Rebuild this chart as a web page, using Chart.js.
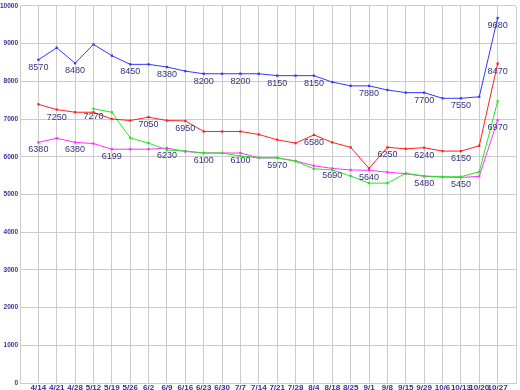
<!DOCTYPE html>
<html>
<head>
<meta charset="utf-8">
<script src="https://cdn.jsdelivr.net/npm/chart.js@4"></script>
<style>
html,body{margin:0;padding:0;background:#fff;}
canvas{display:block;}
</style>
</head>
<body>
<canvas id="c" width="520" height="390"></canvas>
<script>
const categories = ['4/14','4/21','4/28','5/12','5/19','5/26','6/2','6/9','6/16','6/23','6/30','7/7','7/14','7/21','7/28','8/4','8/18','8/25','9/1','9/8','9/15','9/29','10/6','10/13','10/20','10/27'];
const blueValues  = [8570, 8890, 8480, 8980, 8680, 8450, 8450, 8380, 8270, 8200, 8200, 8200, 8200, 8150, 8150, 8150, 7980, 7880, 7880, 7770, 7700, 7700, 7550, 7550, 7590, 9680];
const redValues   = [7390, 7250, 7180, 7180, 7000, 6960, 7050, 6960, 6950, 6670, 6670, 6670, 6590, 6450, 6360, 6580, 6380, 6250, 5690, 6250, 6210, 6240, 6150, 6150, 6290, 8470];
const greenValues = [null, null, null, 7270, 7180, 6500, 6360, 6180, 6150, 6100, 6100, 6020, 5970, 5970, 5880, 5680, 5650, 5490, 5300, 5300, 5560, 5490, 5470, 5470, 5600, 7470];
const pinkValues  = [6380, 6490, 6380, 6350, 6199, 6200, 6200, 6230, 6140, 6100, 6100, 6100, 5970, 5970, 5890, 5760, 5690, 5650, 5640, 5590, 5550, 5480, 5460, 5450, 5480, 6970];
// indices of points that show a value label
const blueLabelIdx  = [0, 2, 5, 7, 9, 11, 13, 15, 18, 21, 23, 25];
const redLabelIdx   = [1, 6, 8, 15, 19, 21, 23, 25];
const greenLabelIdx = [3];
const pinkLabelIdx  = [0, 2, 4, 7, 9, 11, 13, 16, 18, 21, 23, 25];
const yTicks = [0,1000,2000,3000,4000,5000,6000,7000,8000,9000,10000];

function pts(vals){ return vals.map((v,i)=>({x:i+1, y:v})); }

const series = [
  {name:'A', values: blueValues,  color:'#3535ff', labels: blueLabelIdx},
  {name:'B', values: redValues,   color:'#ff2020', labels: redLabelIdx},
  {name:'C', values: greenValues, color:'#22e622', labels: greenLabelIdx},
  {name:'D', values: pinkValues,  color:'#ff30ff', labels: pinkLabelIdx}
];

const valueLabels = {
  id:'valueLabels',
  afterDatasetsDraw(chart){
    const ctx = chart.ctx;
    ctx.save();
    ctx.font = '9px "Liberation Sans", Arial, sans-serif';
    ctx.fillStyle = '#33337a';
    ctx.textAlign = 'center';
    ctx.textBaseline = 'alphabetic';
    chart.data.datasets.forEach((ds, di) => {
      const meta = chart.getDatasetMeta(di);
      series[di].labels.forEach(i => {
        const el = meta.data[i];
        if (!el || ds.data[i].y == null) return;
        ctx.fillText(String(ds.data[i].y), el.x, el.y + 10);
      });
    });
    ctx.restore();
  }
};

new Chart(document.getElementById('c'), {
  type:'line',
  data:{
    datasets: series.map(s => ({
      label: s.name,
      data: pts(s.values),
      borderColor: s.color,
      backgroundColor: s.color,
      borderWidth: 1,
      pointStyle: 'rect',
      pointRadius: 1.6,
      pointBorderWidth: 0,
      tension: 0,
      spanGaps: false
    }))
  },
  options:{
    responsive:false,
    animation:false,
    devicePixelRatio:1,
    layout:{padding:{top:3,right:1,left:0,bottom:0}},
    plugins:{legend:{display:false}, tooltip:{enabled:false}},
    scales:{
      x:{
        type:'linear', min:0, max:categories.length+1,
        afterBuildTicks(scale){ scale.ticks = Array.from({length:categories.length+2},(_,i)=>({value:i})); },
        afterFit(scale){ scale.height = 7; },
        grid:{color:'#cccccc', drawTicks:false, tickLength:0},
        border:{color:'#cccccc'},
        ticks:{
          autoSkip:false, maxRotation:0, padding:0,
          color:'#333399',
          font:{family:'"Liberation Sans", Arial, sans-serif', size:8, weight:'bold'},
          callback:(v)=> (v>=1 && v<=categories.length) ? categories[v-1] : ''
        }
      },
      y:{
        min:0, max:10000,
        afterBuildTicks(scale){ scale.ticks = yTicks.map(v=>({value:v})); },
        afterFit(scale){ scale.width = 20; },
        grid:{color:'#cccccc', drawTicks:false, tickLength:0},
        border:{color:'#cccccc'},
        ticks:{
          padding:2,
          color:'#333399',
          font:{family:'"Liberation Sans", Arial, sans-serif', size:6.5, weight:'bold'},
          callback:(v)=> String(v)
        }
      }
    }
  },
  plugins:[valueLabels]
});
</script>
</body>
</html>
